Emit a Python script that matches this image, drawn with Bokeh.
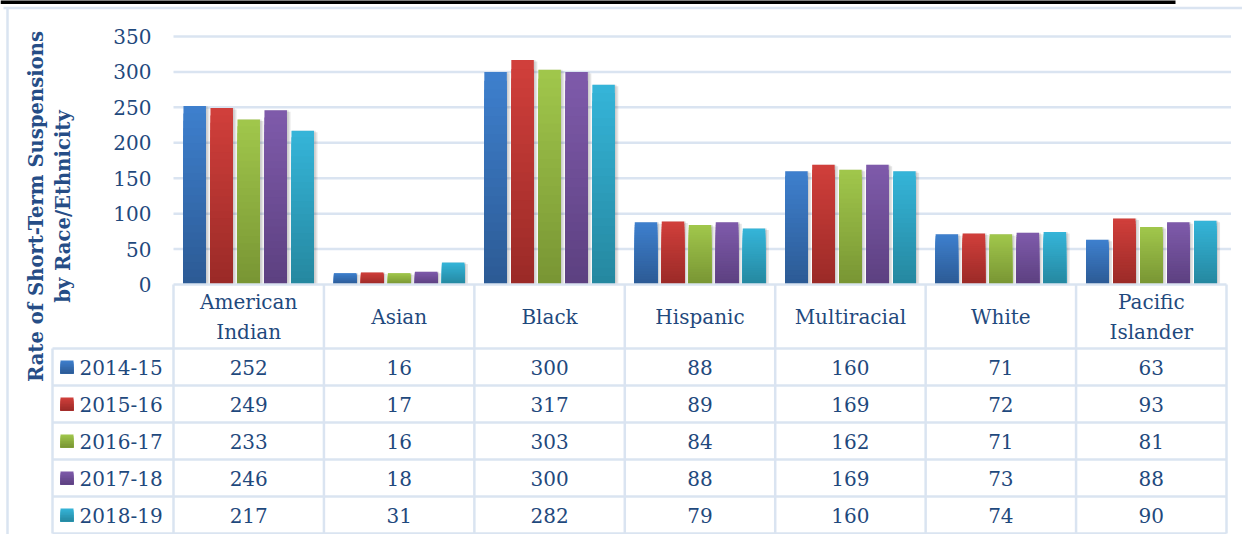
import math
from bokeh.plotting import figure
from bokeh.models import Range1d
from bokeh.core.properties import value
from bokeh.embed import file_html
from bokeh.resources import INLINE

# ---------------- data ----------------
categories = ["American Indian", "Asian", "Black", "Hispanic", "Multiracial", "White", "Pacific Islander"]
header_labels = ["American\nIndian", "Asian", "Black", "Hispanic", "Multiracial", "White", "Pacific\nIslander"]
years = ["2014-15", "2015-16", "2016-17", "2017-18", "2018-19"]
rate_2014_15 = [252, 16, 300, 88, 160, 71, 63]
rate_2015_16 = [249, 17, 317, 89, 169, 72, 93]
rate_2016_17 = [233, 16, 303, 84, 162, 71, 81]
rate_2017_18 = [246, 18, 300, 88, 169, 73, 88]
rate_2018_19 = [217, 31, 282, 79, 160, 74, 90]
series = [rate_2014_15, rate_2015_16, rate_2016_17, rate_2017_18, rate_2018_19]
y_ticks = [0, 50, 100, 150, 200, 250, 300, 350]
y_label_lines = ["Rate of Short-Term Suspensions", "by Race/Ethnicity"]

# ---------------- style ----------------
top_colors = ["#3E80CE", "#D13F3B", "#A1C74C", "#7F5BAB", "#35B5D9"]
bottom_colors = ["#2C5A94", "#9A2A27", "#789533", "#5C4080", "#25879F"]
TEXT = "#1F497D"
LABEL = "#264D86"
GRID = "#DAE4F1"
FONT = value("DejaVu Serif")
FS = "20px"

W, H = 1242, 534
OX, OY = 0, 0
COL0, COL_W = 173.0, 1053.0 / 7
Y0, Y350 = 284.0, 36.0
S_Y = (Y0 - Y350) / 350.0
N_LAYERS = 24
PITCH = 27.0 / COL_W
BAR_W = 22.5 / COL_W


def mix(c1, c2, t):
    a = [int(c1[i:i + 2], 16) for i in (1, 3, 5)]
    b = [int(c2[i:i + 2], 16) for i in (1, 3, 5)]
    return "#%02x%02x%02x" % tuple(round(a[k] + (b[k] - a[k]) * t) for k in range(3))


p = figure(width=W, height=H,
           x_range=Range1d((OX - COL0) / COL_W, (OX + W - COL0) / COL_W),
           y_range=Range1d((Y0 - (OY + H)) / S_Y, (Y0 - OY) / S_Y),
           output_backend="svg", toolbar_location=None,
           x_axis_location=None, y_axis_location=None,
           min_border=0, min_border_left=0, min_border_right=0,
           min_border_top=0, min_border_bottom=0)
p.extra_x_ranges = {"px": Range1d(OX, OX + W)}
p.extra_y_ranges = {"px": Range1d(OY + H, OY)}
p.grid.visible = False
p.outline_line_color = None
p.background_fill_color = "white"
p.border_fill_color = "white"

# cut-off rule of the page above the chart
p.segment(x0=[0], x1=[1175], y0=[1.5], y1=[1.5], x_range_name="px", y_range_name="px",
          line_color="black", line_width=4)

# chart-area border (top and left)
p.segment(x0=[3, 7], x1=[1242, 7], y0=[7.5, 7], y1=[7.5, 534],
          x_range_name="px", y_range_name="px", line_color=GRID, line_width=2.5)

# gridlines
grid_vals = [t for t in y_ticks if t > 0]
p.segment(x0=[0] * len(grid_vals), x1=[7.03] * len(grid_vals), y0=grid_vals, y1=grid_vals,
          line_color=GRID, line_width=2.5)

# y tick labels
p.text(x=[151] * len(y_ticks), y=y_ticks, text=[str(t) for t in y_ticks],
       x_range_name="px", text_align="right", text_baseline="middle",
       text_font=FONT, text_font_size=FS, text_color=TEXT)

# y axis title (two lines)
p.text(x=[36, 63], y=[206, 206], text=y_label_lines, angle=math.pi / 2,
       x_range_name="px", y_range_name="px", text_align="center", text_baseline="middle",
       text_font=FONT, text_font_size="19.6px", text_font_style="bold", text_color=LABEL)

# bars
xs_all, tops_all, cols_all = [], [], []
for j, vals in enumerate(series):
    xs = [i + 0.5 + (j - 2) * PITCH for i in range(len(vals))]
    # soft shadow
    p.vbar(x=[x + 2.5 / COL_W for x in xs], top=[max(v - 1.5 / S_Y, 0) for v in vals], bottom=0,
           width=BAR_W + 2 / COL_W, fill_color="#000000", fill_alpha=0.10, line_color=None)
    p.vbar(x=[x + 1.2 / COL_W for x in xs], top=vals, bottom=0,
           width=BAR_W + 1 / COL_W, fill_color="#000000", fill_alpha=0.10, line_color=None)
    for k in range(N_LAYERS):
        c = mix(top_colors[j], bottom_colors[j], (k + 0.5) / N_LAYERS)
        for x, v in zip(xs, vals):
            xs_all.append(x)
            tops_all.append(v * (N_LAYERS - k) / N_LAYERS)
            cols_all.append(c)
p.vbar(x=xs_all, top=tops_all, bottom=0, width=BAR_W, fill_color=cols_all, line_color=None)

# data table
row_edges = [348, 385, 422, 459, 496, 533]
row_centers = [(a + b) / 2 for a, b in zip(row_edges[:-1], row_edges[1:])]
col_edges = [COL0 + COL_W * i for i in range(len(categories) + 1)]
right = col_edges[-1]
hx0 = [COL0] + [52] * len(row_edges)
hx1 = [right] * (len(row_edges) + 1)
hy = [284] + row_edges
p.segment(x0=hx0, x1=hx1, y0=hy, y1=hy, x_range_name="px", y_range_name="px",
          line_color=GRID, line_width=2.5)
vx = [52] + col_edges
vy0 = [348] + [284] * len(col_edges)
vy1 = [533] * (len(col_edges) + 1)
p.segment(x0=vx, x1=vx, y0=vy0, y1=vy1, x_range_name="px", y_range_name="px",
          line_color=GRID, line_width=2.5)

# header labels
p.text(x=[i + 0.5 for i in range(len(categories))], y=[316] * len(categories), text=header_labels,
       y_range_name="px", text_align="center", text_baseline="middle", text_line_height=1.25,
       text_font=FONT, text_font_size=FS, text_color=TEXT)

# table values
tx, ty, tt = [], [], []
for r, vals in enumerate(series):
    for i, v in enumerate(vals):
        tx.append(i + 0.5)
        ty.append(row_centers[r])
        tt.append(str(v))
p.text(x=tx, y=ty, text=tt, y_range_name="px", text_align="center", text_baseline="middle",
       text_font=FONT, text_font_size=FS, text_color=TEXT)

# legend keys and year labels
for r in range(len(years)):
    c0 = row_centers[r]
    for k in range(8):
        h = 13 * (8 - k) / 8
        p.quad(left=60, right=73, top=c0 + 6.5 - h, bottom=c0 + 6.5,
               x_range_name="px", y_range_name="px",
               fill_color=mix(top_colors[r], bottom_colors[r], (k + 0.5) / 8), line_color=None)
p.text(x=[79] * len(years), y=row_centers, text=years, x_range_name="px", y_range_name="px",
       text_align="left", text_baseline="middle",
       text_font=FONT, text_font_size=FS, text_color=TEXT)

open("out.html", "w").write(file_html(p, INLINE))
